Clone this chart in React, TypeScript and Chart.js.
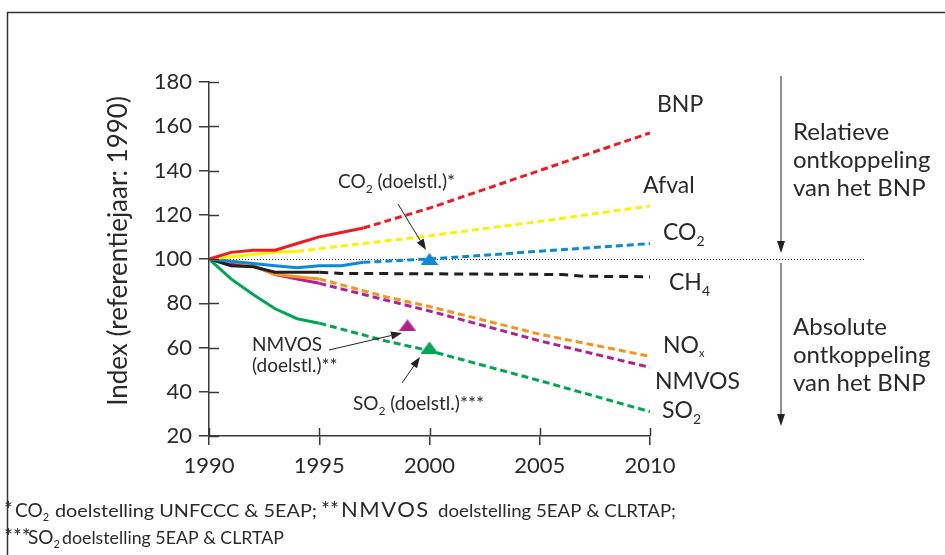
import React, { useEffect, useRef } from 'react';
import { Chart, registerables } from 'chart.js';

Chart.register(...registerables);

// ---------- data (index, 1990 = 100) ----------
const BNP = [[1990, 100], [1991, 103], [1992, 104], [1993, 104], [1994, 107], [1995, 110], [1996, 112], [1997, 114], [2000, 123], [2005, 140], [2010, 157]];
const AFVAL = [[1990, 100], [1991, 101], [1992, 102], [1993, 103], [1994, 103.5], [2000, 110.5], [2005, 117], [2010, 124]];
const CO2 = [[1990, 100], [1991, 99], [1992, 98], [1993, 97], [1994, 96], [1995, 97], [1996, 97], [1997, 98.5], [2000, 100], [2005, 103.5], [2010, 107]];
const CH4 = [[1990, 100], [1991, 97], [1992, 96.5], [1993, 94], [1994, 94], [1995, 94], [1996, 93.5], [2000, 93.3], [2006, 93], [2007, 92.2], [2010, 92]];
const NOX = [[1990, 100], [1991, 99], [1992, 97], [1993, 93], [1994, 92], [1995, 91], [1998, 83], [2000, 78.5], [2005, 66], [2010, 56]];
const NMVOS = [[1990, 100], [1991, 98], [1992, 97], [1993, 93], [1994, 91], [1995, 89], [1998, 81.5], [2000, 76.5], [2005, 63], [2010, 51]];
const SO2 = [[1990, 100], [1991, 91], [1992, 84], [1993, 77.5], [1994, 73], [1995, 71], [1998, 63], [2000, 58.5], [2005, 45], [2010, 31]];

// last year of measured (solid) part; after it the line is a projection (dashed)
const SPLIT_YEARS = { BNP: 1997, Afval: 1994, CO2: 1997, CH4: 1995, NOx: 1995, NMVOS: 1995, SO2: 1995 };

// targets (doelstellingen)
const CO2_TARGET = [[2000, 100]];
const NMVOS_TARGET = [[1999, 70]];
const SO2_TARGET = [[2000, 60]];

const Y_TICKS = [20, 40, 60, 80, 100, 120, 140, 160, 180];
const X_TICKS = [1990, 1995, 2000, 2005, 2010];
const Y_TITLE = 'Index (referentiejaar: 1990)';

const FONT = 'Lato, "Open Sans", sans-serif';
const TEXT = '#2a2a2a';

const toXY = (arr: number[][]) => arr.map(([x, y]) => ({ x, y }));

function triangleImage(color: string) {
  const c = document.createElement('canvas');
  c.width = 18;
  c.height = 12;
  const g = c.getContext('2d')!;
  g.fillStyle = color;
  g.beginPath();
  g.moveTo(9, 0);
  g.lineTo(18, 12);
  g.lineTo(0, 12);
  g.closePath();
  g.fill();
  return c;
}

type Part = { t: string; size: number; dy?: number; family?: string; fitW?: number; at?: number; ls?: number };

function drawParts(ctx: CanvasRenderingContext2D, x: number, y: number, parts: Part[]) {
  let cx = x;
  const c: any = ctx;
  for (const p of parts) {
    if (p.at !== undefined) cx = p.at;
    ctx.font = `${p.size}px ${p.family ?? FONT}`;
    if ('letterSpacing' in c) c.letterSpacing = `${p.ls ?? 0}px`;
    const w = ctx.measureText(p.t).width;
    if (p.fitW) {
      ctx.save();
      ctx.translate(cx, y + (p.dy ?? 0));
      ctx.scale(p.fitW / w, 1);
      ctx.fillText(p.t, 0, 0);
      ctx.restore();
      cx += p.fitW;
    } else {
      ctx.fillText(p.t, cx, y + (p.dy ?? 0));
      cx += w;
    }
  }
  if ('letterSpacing' in c) c.letterSpacing = '0px';
}

function arrow(ctx: CanvasRenderingContext2D, x1: number, y1: number, x2: number, y2: number, head = 10, half = 3.5) {
  const a = Math.atan2(y2 - y1, x2 - x1);
  const bx = x2 - Math.cos(a) * head;
  const by = y2 - Math.sin(a) * head;
  ctx.beginPath();
  ctx.moveTo(x1, y1);
  ctx.lineTo(bx, by);
  ctx.stroke();
  ctx.beginPath();
  ctx.moveTo(x2, y2);
  ctx.lineTo(bx + Math.sin(a) * half, by - Math.cos(a) * half);
  ctx.lineTo(bx - Math.sin(a) * half, by + Math.cos(a) * half);
  ctx.closePath();
  ctx.fill();
}

const decorPlugin = {
  id: 'decor',
  beforeDatasetsDraw(chart: any) {
    const { ctx, scales } = chart;
    const y100 = scales.y.getPixelForValue(100);
    ctx.save();
    ctx.strokeStyle = '#222';
    ctx.lineWidth = 1;
    ctx.setLineDash([1, 2]);
    ctx.beginPath();
    ctx.moveTo(chart.chartArea.left, y100 + 0.5);
    ctx.lineTo(864, y100 + 0.5);
    ctx.stroke();
    ctx.restore();
  },
  afterDraw(chart: any) {
    const { ctx, scales, chartArea } = chart;
    const xs = scales.x;
    const ys = scales.y;
    ctx.save();
    // inward tick stubs
    ctx.strokeStyle = '#3a3a3a';
    ctx.lineWidth = 1.5;
    for (const v of Y_TICKS) {
      const py = Math.round(ys.getPixelForValue(v)) + 0.5;
      ctx.beginPath();
      ctx.moveTo(chartArea.left, py);
      ctx.lineTo(chartArea.left + 10, py);
      ctx.stroke();
    }
    for (const v of X_TICKS) {
      const px = Math.round(xs.getPixelForValue(v)) + 0.5;
      ctx.beginPath();
      ctx.moveTo(px, chartArea.bottom);
      ctx.lineTo(px, chartArea.bottom - 8);
      ctx.stroke();
    }

    // frame (top and left)
    ctx.strokeStyle = '#333';
    ctx.lineWidth = 1.5;
    ctx.beginPath();
    ctx.moveTo(945, 12.5);
    ctx.lineTo(7.5, 12.5);
    ctx.lineTo(7.5, 555);
    ctx.stroke();

    ctx.fillStyle = TEXT;

    // y-axis title
    ctx.save();
    ctx.translate(119, 251);
    ctx.rotate(-Math.PI / 2);
    ctx.textAlign = 'center';
    ctx.textBaseline = 'middle';
    ctx.font = `26px ${FONT}`;
    ctx.fillText(Y_TITLE, 0, 0);
    ctx.restore();

    ctx.textBaseline = 'alphabetic';
    ctx.textAlign = 'left';

    // series labels
    const L = 23;
    const S = 14;
    drawParts(ctx, 657, 112, [{ t: 'BNP', size: L }]);
    drawParts(ctx, 643, 193, [{ t: 'Afval', size: L }]);
    drawParts(ctx, 663, 240, [{ t: 'CO', size: L }, { t: '2', size: S, dy: 6 }]);
    drawParts(ctx, 669, 290, [{ t: 'CH', size: L }, { t: '4', size: S, dy: 6 }]);
    drawParts(ctx, 663, 353, [{ t: 'NO', size: L }, { t: 'x', size: 11, dy: 4 }]);
    drawParts(ctx, 655, 389, [{ t: 'NMVOS', size: L }]);
    drawParts(ctx, 662, 418, [{ t: 'SO', size: L }, { t: '2', size: S, dy: 6 }]);

    // right-hand explanations
    const R = 24;
    drawParts(ctx, 793, 140, [{ t: 'Relatieve', size: R }]);
    drawParts(ctx, 793, 168, [{ t: 'ontkoppeling', size: R }]);
    drawParts(ctx, 793, 196, [{ t: 'van het BNP', size: R }]);
    drawParts(ctx, 793, 335, [{ t: 'Absolute', size: R }]);
    drawParts(ctx, 793, 363, [{ t: 'ontkoppeling', size: R }]);
    drawParts(ctx, 793, 391, [{ t: 'van het BNP', size: R }]);

    // annotations
    const A = 19;
    drawParts(ctx, 338, 188, [{ t: 'CO', size: A }, { t: '2', size: 12, dy: 5 }, { t: ' (doelstl.)*', size: A }]);
    drawParts(ctx, 252, 351, [{ t: 'NMVOS', size: A }]);
    drawParts(ctx, 252, 372, [{ t: '(doelstl.)**', size: A }]);
    drawParts(ctx, 353, 410, [{ t: 'SO', size: A }, { t: '2', size: 12, dy: 5 }, { t: ' (doelstl.)***', size: A }]);

    // arrows
    ctx.strokeStyle = '#222';
    ctx.fillStyle = '#222';
    ctx.lineWidth = 1;
    arrow(ctx, 398, 204, 426, 250, 11, 4);
    arrow(ctx, 329, 350, 402, 333, 11, 4);
    arrow(ctx, 402, 383, 420, 357, 11, 4);
    const y100 = ys.getPixelForValue(100);
    arrow(ctx, 781, 76, 781, y100 - 6, 12, 4);
    arrow(ctx, 781, y100 + 4, 781, 426, 12, 4);

    // footnotes
    ctx.fillStyle = TEXT;
    const F = 17;
    drawParts(ctx, 5, 517, [
      { t: '*', size: 21, at: 4 },
      { t: 'CO', size: 19, at: 15 },
      { t: '2', size: 11, dy: 4 },
      { t: 'doelstelling UNFCCC & 5EAP;', size: F, fitW: 262, at: 55 },
      { t: '**', size: 21, at: 321 },
      { t: 'NMVOS', size: 22, ls: 1.5, at: 341 },
      { t: 'doelstelling 5EAP & CLRTAP;', size: F, fitW: 238, at: 438 },
    ]);
    drawParts(ctx, 5, 544, [
      { t: '***', size: 21, at: 4 },
      { t: 'SO', size: 19, at: 28 },
      { t: '2', size: 11, dy: 4 },
      { t: 'doelstelling 5EAP & CLRTAP', size: F, fitW: 222, at: 62 },
    ]);

    ctx.restore();
  },
};

function lineDs(label: string, data: number[][], color: string, split: number, dash: number[]) {
  return {
    label,
    data: toXY(data),
    borderColor: color,
    backgroundColor: color,
    borderWidth: 3,
    pointRadius: 0,
    tension: 0,
    fill: false,
    segment: {
      borderDash: (c: any) => (c.p0.parsed.x >= split ? dash : undefined),
    },
  };
}

function targetDs(label: string, data: number[][], color: string) {
  return {
    label,
    data: toXY(data),
    showLine: false,
    pointRadius: 6,
    pointStyle: triangleImage(color),
    borderColor: color,
    backgroundColor: color,
    order: -1,
  };
}

export default function App() {
  const ref = useRef<HTMLCanvasElement>(null);

  useEffect(() => {
    if (!ref.current) return;
    const chart = new Chart(ref.current, {
      type: 'line',
      data: {
        datasets: [
          lineDs('BNP', BNP, '#ed1c24', SPLIT_YEARS.BNP, [7, 4]),
          lineDs('Afval', AFVAL, '#fff200', SPLIT_YEARS.Afval, [7, 4]),
          lineDs('CO2', CO2, '#0a8bd6', SPLIT_YEARS.CO2, [7, 4]),
          lineDs('CH4', CH4, '#231f20', SPLIT_YEARS.CH4, [9, 6]),
          lineDs('NOx', NOX, '#f7941d', SPLIT_YEARS.NOx, [7, 4]),
          lineDs('NMVOS', NMVOS, '#b2228f', SPLIT_YEARS.NMVOS, [7, 4]),
          lineDs('SO2', SO2, '#00a651', SPLIT_YEARS.SO2, [7, 4]),
          targetDs('CO2 doelstelling', CO2_TARGET, '#0a8bd6'),
          targetDs('NMVOS doelstelling', NMVOS_TARGET, '#b2228f'),
          targetDs('SO2 doelstelling', SO2_TARGET, '#00a651'),
        ] as any,
      },
      options: {
        responsive: false,
        animation: false,
        devicePixelRatio: 1,
        layout: { padding: { left: 0, top: 82, right: 295, bottom: 0 } },
        plugins: { legend: { display: false }, tooltip: { enabled: false } },
        scales: {
          x: {
            type: 'linear',
            min: 1990,
            max: 2010,
            afterFit: (s: any) => { s.height = 119; },
            afterBuildTicks: (s: any) => { s.ticks = X_TICKS.map((v) => ({ value: v })); },
            ticks: {
              callback: (v: any) => String(v),
              color: TEXT,
              font: { family: FONT, size: 22 },
              padding: 8,
              maxRotation: 0,
              autoSkip: false,
            },
            grid: { drawOnChartArea: false, drawTicks: true, tickLength: 9, color: '#3a3a3a', lineWidth: 1.5 },
            border: { display: true, color: '#3a3a3a', width: 1.5 },
          },
          y: {
            type: 'linear',
            min: 20,
            max: 180,
            afterFit: (s: any) => { s.width = 209; },
            afterBuildTicks: (s: any) => { s.ticks = Y_TICKS.map((v) => ({ value: v })); },
            ticks: {
              callback: (v: any) => String(v),
              color: TEXT,
              font: { family: FONT, size: 22 },
              padding: 7,
              autoSkip: false,
            },
            title: { display: false, text: Y_TITLE },
            grid: { drawOnChartArea: false, drawTicks: true, tickLength: 10, color: '#3a3a3a', lineWidth: 1.5 },
            border: { display: true, color: '#3a3a3a', width: 1.5 },
          },
        },
      },
      plugins: [decorPlugin],
    });
    return () => chart.destroy();
  }, []);

  return (
    <div style={{ position: 'fixed', left: 0, top: 0, width: 945, height: 555, background: '#fff' }}>
      <canvas ref={ref} width={945} height={555} />
    </div>
  );
}
